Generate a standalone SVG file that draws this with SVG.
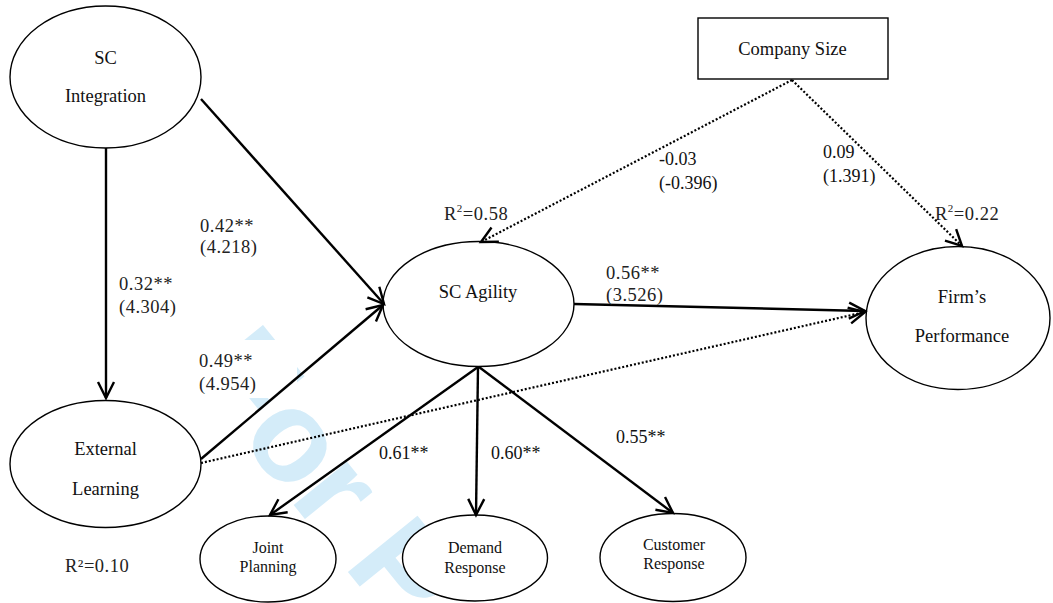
<svg xmlns="http://www.w3.org/2000/svg" width="1053" height="603" viewBox="0 0 1053 603">
<style>
  .node { fill: #fff; stroke: #000; stroke-width: 1.4; }
  .big { font-family: "Liberation Serif", "Times New Roman", serif; font-size: 18.5px; fill: #111; text-anchor: middle; }
  .small { font-family: "Liberation Serif", "Times New Roman", serif; font-size: 16px; fill: #111; text-anchor: middle; }
  .lbl { font-family: "Liberation Serif", "Times New Roman", serif; font-size: 18px; fill: #111; }
  .cam { font-family: "Liberation Serif", "Times New Roman", serif; font-size: 18.5px; fill: #222; letter-spacing: 0.5px; }
  .solid { fill: none; stroke: #000; stroke-width: 2.4; }
  .dot { fill: none; stroke: #000; stroke-width: 2.2; stroke-dasharray: 2 2; }
  .wm { font-family: "Liberation Sans", Arial, sans-serif; font-weight: bold; font-size: 130px; fill: #d4ecf9; }
</style>
<defs>
  <marker id="arr" viewBox="-20 -12 24 24" refX="0" refY="0" markerWidth="24" markerHeight="24" markerUnits="userSpaceOnUse" orient="auto" overflow="visible">
    <path d="M-16,-8 L0,0 L-16,8" fill="none" stroke="#000" stroke-width="2.4" stroke-dasharray="none"/>
  </marker>
</defs>
<rect x="0" y="0" width="1053" height="603" fill="#fff"/>
<g id="watermark">
  <text class="wm" transform="translate(188,374.5) rotate(51)">For P</text>
  <rect x="185" y="340" width="112" height="58" fill="#fff"/>
</g>
<g id="sc-integration">
  <ellipse class="node" cx="105.5" cy="77" rx="95.5" ry="71"/>
  <text class="big" x="105.5" y="64">SC</text>
  <text class="big" x="105.5" y="102">Integration</text>
</g>
<g id="external-learning">
  <ellipse class="node" cx="105.5" cy="464" rx="95.5" ry="63.5"/>
  <text class="big" x="105.5" y="455">External</text>
  <text class="big" x="105.5" y="495">Learning</text>
</g>
<g id="sc-agility">
  <ellipse class="node" cx="478.5" cy="304" rx="95.5" ry="62.5"/>
  <text class="big" x="478" y="298">SC Agility</text>
</g>
<g id="firms-performance">
  <ellipse class="node" cx="958" cy="318" rx="92" ry="71.5"/>
  <text class="big" x="962" y="303">Firm’s</text>
  <text class="big" x="962" y="342">Performance</text>
</g>
<g id="company-size">
  <rect class="node" x="698" y="18" width="190" height="61"/>
  <text class="big" x="792.5" y="55">Company Size</text>
</g>
<g id="joint-planning">
  <ellipse class="node" cx="268" cy="559" rx="68" ry="43"/>
  <text class="small" x="268" y="553">Joint</text>
  <text class="small" x="268" y="572">Planning</text>
</g>
<g id="demand-response">
  <ellipse class="node" cx="475" cy="558" rx="72.5" ry="43"/>
  <text class="small" x="475" y="553">Demand</text>
  <text class="small" x="475" y="573">Response</text>
</g>
<g id="customer-response">
  <ellipse class="node" cx="673" cy="557.5" rx="73" ry="44"/>
  <text class="small" x="674" y="550">Customer</text>
  <text class="small" x="674" y="568.5">Response</text>
</g>
<g id="connectors">
  <path class="solid" d="M106,148 L106,398" marker-end="url(#arr)"/>
  <path class="solid" d="M201,99 L384,304" marker-end="url(#arr)"/>
  <path class="solid" d="M201,459 L383,305" marker-end="url(#arr)"/>
  <path class="solid" d="M574,304 L865,311" marker-end="url(#arr)"/>
  <path class="dot" d="M201,463 L865,312" marker-end="url(#arr)"/>
  <path class="dot" d="M792,80 L481,242" marker-end="url(#arr)"/>
  <path class="dot" d="M792,80 L962,246" marker-end="url(#arr)"/>
  <path class="solid" d="M478,367 L270,515" marker-end="url(#arr)"/>
  <path class="solid" d="M478,367 L476,515" marker-end="url(#arr)"/>
  <path class="solid" d="M479,367 L673,513" marker-end="url(#arr)"/>
</g>
<g id="labels">
  <text class="cam" x="200" y="231.7">0.42**</text>
  <text class="cam" x="200" y="253">(4.218)</text>
  <text class="cam" x="119" y="290">0.32**</text>
  <text class="cam" x="119" y="312.7">(4.304)</text>
  <text class="cam" x="199" y="366.7">0.49**</text>
  <text class="cam" x="199" y="390">(4.954)</text>
  <text class="cam" x="606" y="279">0.56**</text>
  <text class="cam" x="606" y="300.7">(3.526)</text>
  <text class="cam" x="444" y="220">R<tspan dy="-8" font-size="11">2</tspan><tspan dy="8">=0.58</tspan></text>
  <text class="cam" x="935" y="220">R<tspan dy="-8" font-size="11">2</tspan><tspan dy="8">=0.22</tspan></text>
  <text class="cam" x="65" y="572">R²=0.10</text>
  <text class="lbl" x="659" y="165">-0.03</text>
  <text class="lbl" x="659" y="189">(-0.396)</text>
  <text class="lbl" x="823" y="158">0.09</text>
  <text class="lbl" x="823" y="182">(1.391)</text>
  <text class="lbl" x="379" y="459">0.61**</text>
  <text class="lbl" x="491" y="458.5">0.60**</text>
  <text class="lbl" x="616" y="443">0.55**</text>
</g>
</svg>
